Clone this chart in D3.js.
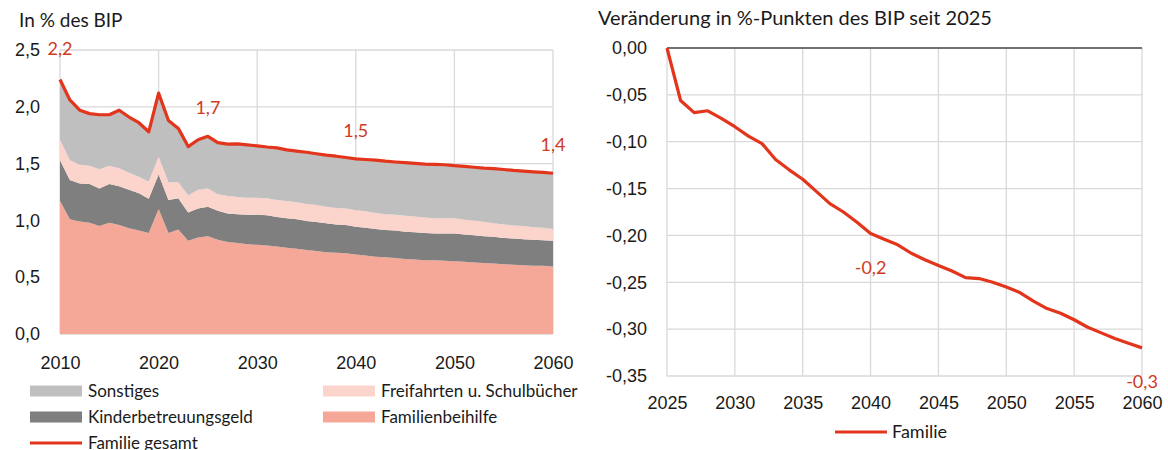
<!DOCTYPE html>
<html>
<head>
<meta charset="utf-8">
<script src="https://cdn.jsdelivr.net/npm/d3@7"></script>
<style>
    body { margin: 0; background: #fff; }
    svg { display: block; font-family: Lato, "Open Sans", sans-serif; }
    .grid line { stroke: #d9d9d9; stroke-width: 1.3; }
    .tick text { fill: #1a1a1a; }
</style>
</head>
<body>
<script>
/*Data*/
var years = d3.range(2010, 2061);

var familienbeihilfe = [1.17, 1.01, 0.99, 0.98, 0.95, 0.98, 0.96, 0.93, 0.91, 0.89,
    1.10, 0.89, 0.92, 0.82, 0.85, 0.86, 0.83, 0.81, 0.80, 0.79,
    0.785, 0.78, 0.77, 0.76, 0.75, 0.74, 0.73, 0.72, 0.715, 0.71,
    0.70, 0.69, 0.68, 0.675, 0.67, 0.66, 0.655, 0.65, 0.65, 0.645,
    0.64, 0.635, 0.63, 0.625, 0.62, 0.615, 0.61, 0.605, 0.60, 0.60, 0.595];

var kinderbetreuungsgeld = [0.36, 0.345, 0.335, 0.34, 0.33, 0.34, 0.34, 0.34, 0.33, 0.30,
    0.305, 0.29, 0.275, 0.25, 0.255, 0.26, 0.255, 0.25, 0.255, 0.26,
    0.265, 0.265, 0.26, 0.26, 0.26, 0.255, 0.255, 0.255, 0.25, 0.25,
    0.245, 0.245, 0.245, 0.24, 0.24, 0.24, 0.24, 0.24, 0.235, 0.24,
    0.245, 0.24, 0.24, 0.235, 0.235, 0.23, 0.23, 0.23, 0.23, 0.225, 0.225];

var freifahrten = [0.18, 0.175, 0.165, 0.16, 0.17, 0.16, 0.16, 0.15, 0.145, 0.15,
    0.155, 0.155, 0.14, 0.15, 0.165, 0.16, 0.145, 0.155, 0.15, 0.15,
    0.15, 0.15, 0.15, 0.15, 0.15, 0.15, 0.15, 0.145, 0.145, 0.145,
    0.145, 0.145, 0.14, 0.14, 0.14, 0.14, 0.14, 0.135, 0.135, 0.135,
    0.135, 0.13, 0.13, 0.125, 0.12, 0.12, 0.115, 0.115, 0.11, 0.11, 0.105];

var familieGesamt = [2.24, 2.06, 1.97, 1.94, 1.93, 1.93, 1.97, 1.91, 1.86, 1.78,
    2.12, 1.88, 1.81, 1.65, 1.71, 1.74, 1.684, 1.671, 1.673, 1.665,
    1.656, 1.646, 1.638, 1.621, 1.61, 1.60, 1.587, 1.574, 1.565, 1.554,
    1.542, 1.536, 1.53, 1.521, 1.514, 1.508, 1.502, 1.495, 1.494, 1.49,
    1.482, 1.476, 1.468, 1.46, 1.455, 1.448, 1.44, 1.434, 1.428, 1.422, 1.415];

var changeYears = d3.range(2025, 2061);
var changeFamilie = [0, -0.056, -0.069, -0.067, -0.075, -0.084, -0.094, -0.102, -0.119, -0.130,
    -0.140, -0.153, -0.166, -0.175, -0.186, -0.198, -0.204, -0.210, -0.219, -0.226,
    -0.232, -0.238, -0.245, -0.246, -0.250, -0.255, -0.261, -0.270, -0.278, -0.283,
    -0.290, -0.298, -0.304, -0.310, -0.315, -0.320];

var leftLabels = [[2010, 2.24, "2,2"], [2025, 1.74, "1,7"], [2040, 1.542, "1,5"], [2060, 1.415, "1,4"]];
var rightLabels = [[2040, -0.198, "-0,2"], [2060, -0.320, "-0,3"]];

var layerNames = ["Familienbeihilfe", "Kinderbetreuungsgeld", "Freifahrten u. Schulbücher", "Sonstiges"];
var layerColors = ["#f5a898", "#7f7f7f", "#fbd4cc", "#bfbfbf"];
var lineColor = "#e2351c",
    labelColor = "#d03a1e";

var de = d3.formatLocale({ decimal: ",", thousands: ".", grouping: [3], currency: ["", " €"], minus: "-" });

var svg = d3.select("body").append("svg")
    .attr("width", 1168)
    .attr("height", 450);

/*Build the stacked table*/
var table = years.map(function(yr, i) {
    var row = { year: yr };
    row["Familienbeihilfe"] = familienbeihilfe[i];
    row["Kinderbetreuungsgeld"] = kinderbetreuungsgeld[i];
    row["Freifahrten u. Schulbücher"] = freifahrten[i];
    row["Sonstiges"] = familieGesamt[i] - familienbeihilfe[i] - kinderbetreuungsgeld[i] - freifahrten[i];
    return row;
});

/*Left chart*/
var x1 = d3.scaleLinear().domain([2010, 2060]).range([60, 553]);
var y1 = d3.scaleLinear().domain([0, 2.5]).range([334, 50]);

var g1 = svg.append("g");

g1.append("g").attr("class", "grid")
    .selectAll("line").data(y1.ticks(5)).enter().append("line")
    .attr("x1", 60).attr("x2", 553)
    .attr("y1", function(d) { return y1(d) }).attr("y2", function(d) { return y1(d) });

g1.append("g").attr("class", "grid")
    .selectAll("line").data(d3.range(2010, 2061, 10)).enter().append("line")
    .attr("y1", 50).attr("y2", 334)
    .attr("x1", function(d) { return x1(d) }).attr("x2", function(d) { return x1(d) });

var series = d3.stack().keys(layerNames)(table);

var area = d3.area()
    .x(function(d) { return x1(d.data.year) })
    .y0(function(d) { return y1(d[0]) })
    .y1(function(d) { return y1(d[1]) });

g1.selectAll("path.layer").data(series).enter().append("path")
    .attr("class", "layer")
    .attr("d", area)
    .attr("fill", function(d, i) { return layerColors[i] });

g1.append("path")
    .datum(familieGesamt)
    .attr("fill", "none")
    .attr("stroke", lineColor)
    .attr("stroke-width", 3.2)
    .attr("stroke-linejoin", "round")
    .attr("d", d3.line()
        .x(function(d, i) { return x1(years[i]) })
        .y(function(d) { return y1(d) }));

g1.append("g")
    .attr("transform", "translate(40,0)")
    .call(d3.axisLeft(y1).ticks(5).tickFormat(de.format(".1f")).tickSize(0).tickPadding(0))
    .call(function(g) { g.select(".domain").remove() })
    .selectAll("text").attr("font-size", 18);

g1.append("g")
    .attr("transform", "translate(0,356)")
    .call(d3.axisBottom(x1).tickValues(d3.range(2010, 2061, 10)).tickFormat(d3.format("d")).tickSize(0).tickPadding(0))
    .call(function(g) { g.select(".domain").remove() })
    .selectAll("text").attr("font-size", 18);

g1.selectAll("text.val").data(leftLabels).enter().append("text")
    .attr("class", "val")
    .attr("x", function(d) { return x1(d[0]) })
    .attr("y", function(d, i) { return y1(d[1]) - (i == 0 ? 25 : 22) })
    .attr("text-anchor", "middle")
    .attr("fill", labelColor)
    .attr("font-size", 18)
    .text(function(d) { return d[2] });

g1.append("text")
    .attr("x", 19).attr("y", 27)
    .attr("font-size", 19).attr("fill", "#1a1a1a")
    .text("In % des BIP");

/*Left legend*/
var legendItems = [
    { name: "Sonstiges", color: layerColors[3], x: 30, y: 391 },
    { name: "Freifahrten u. Schulbücher", color: layerColors[2], x: 323, y: 391 },
    { name: "Kinderbetreuungsgeld", color: layerColors[1], x: 30, y: 417 },
    { name: "Familienbeihilfe", color: layerColors[0], x: 323, y: 417 },
    { name: "Familie gesamt", color: lineColor, x: 30, y: 443, line: true }
];

var leg = g1.selectAll("g.leg").data(legendItems).enter().append("g")
    .attr("class", "leg")
    .attr("transform", function(d) { return "translate(" + d.x + "," + d.y + ")" });

leg.append("rect")
    .attr("x", 0).attr("width", 52)
    .attr("y", function(d) { return d.line ? -1.5 : -5.5 })
    .attr("height", function(d) { return d.line ? 3 : 11 })
    .attr("fill", function(d) { return d.color });

leg.append("text")
    .attr("x", 58).attr("dy", "0.35em")
    .attr("font-size", 17).attr("fill", "#1a1a1a")
    .text(function(d) { return d.name });

/*Right chart*/
var x2 = d3.scaleLinear().domain([2025, 2060]).range([667, 1142]);
var y2 = d3.scaleLinear().domain([-0.35, 0]).range([376, 48]);
var yTicks2 = d3.range(0, 8).map(function(i) { return -0.05 * i });

var g2 = svg.append("g");

g2.append("g").attr("class", "grid")
    .selectAll("line").data(yTicks2).enter().append("line")
    .attr("x1", 667).attr("x2", 1142)
    .attr("y1", function(d) { return y2(d) }).attr("y2", function(d) { return y2(d) });

g2.append("g").attr("class", "grid")
    .selectAll("line").data(d3.range(2025, 2061, 5)).enter().append("line")
    .attr("y1", 48).attr("y2", 376)
    .attr("x1", function(d) { return x2(d) }).attr("x2", function(d) { return x2(d) });

g2.append("line")
    .attr("x1", 667).attr("x2", 1142)
    .attr("y1", y2(0)).attr("y2", y2(0))
    .attr("stroke", "#000").attr("stroke-width", 1.2);

g2.append("path")
    .datum(changeFamilie)
    .attr("fill", "none")
    .attr("stroke", lineColor)
    .attr("stroke-width", 3.2)
    .attr("stroke-linejoin", "round")
    .attr("d", d3.line()
        .x(function(d, i) { return x2(changeYears[i]) })
        .y(function(d) { return y2(d) }));

g2.append("g")
    .attr("transform", "translate(647,0)")
    .call(d3.axisLeft(y2).tickValues(yTicks2).tickFormat(de.format(".2f")).tickSize(0).tickPadding(0))
    .call(function(g) { g.select(".domain").remove() })
    .selectAll("text").attr("font-size", 18);

g2.append("g")
    .attr("transform", "translate(0,396)")
    .call(d3.axisBottom(x2).tickValues(d3.range(2025, 2061, 5)).tickFormat(d3.format("d")).tickSize(0).tickPadding(0))
    .call(function(g) { g.select(".domain").remove() })
    .selectAll("text").attr("font-size", 18);

g2.selectAll("text.val").data(rightLabels).enter().append("text")
    .attr("class", "val")
    .attr("x", function(d) { return x2(d[0]) })
    .attr("y", function(d) { return y2(d[1]) + 40 })
    .attr("text-anchor", "middle")
    .attr("fill", labelColor)
    .attr("font-size", 18)
    .text(function(d) { return d[2] });

g2.append("text")
    .attr("x", 598).attr("y", 25)
    .attr("font-size", 20).attr("fill", "#1a1a1a")
    .text("Veränderung in %-Punkten des BIP seit 2025");

g2.append("line")
    .attr("x1", 835).attr("x2", 887)
    .attr("y1", 432).attr("y2", 432)
    .attr("stroke", lineColor).attr("stroke-width", 3);

g2.append("text")
    .attr("x", 892).attr("y", 432).attr("dy", "0.35em")
    .attr("font-size", 18).attr("fill", "#1a1a1a")
    .text("Familie");
</script>
</body>
</html>
